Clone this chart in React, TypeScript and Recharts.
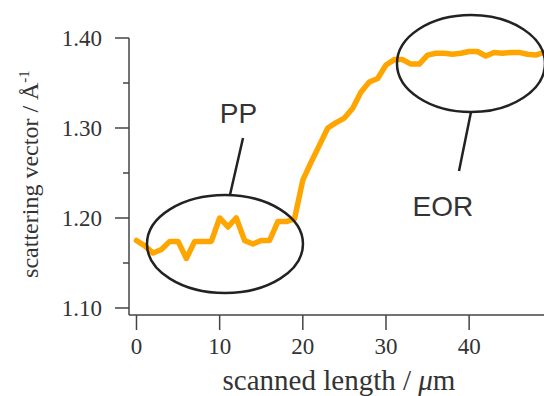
import React from 'react';
import {
  Line,
  LineChart,
  ReferenceDot,
  ReferenceLine,
  XAxis,
  YAxis,
} from 'recharts';

// scanned length (µm) and scattering vector (Å^-1)
const lengths = [
  0, 1, 2, 3, 4, 5, 6, 7, 8, 9, 10, 11, 12, 13, 14, 15, 16, 17, 18, 19, 20, 21,
  22, 23, 24, 25, 26, 27, 28, 29, 30, 31, 32, 33, 34, 35, 36, 37, 38, 39, 40,
  41, 42, 43, 44, 45, 46, 47, 48, 49,
];
const qValues = [
  1.175, 1.169, 1.161, 1.165, 1.174, 1.174, 1.155, 1.174, 1.174, 1.174, 1.2,
  1.19, 1.2, 1.175, 1.171, 1.175, 1.175, 1.196, 1.196, 1.199, 1.242, 1.262,
  1.281, 1.3, 1.306, 1.311, 1.322, 1.34, 1.351, 1.355, 1.37, 1.376, 1.376,
  1.371, 1.371, 1.381, 1.383, 1.383, 1.382, 1.383, 1.385, 1.385, 1.38, 1.384,
  1.383, 1.384, 1.384, 1.382, 1.381, 1.384,
];
const xTicks = [0, 10, 20, 30, 40];
const yTicks = [1.1, 1.15, 1.2, 1.25, 1.3, 1.35, 1.4];
const majorYTicks = [1.1, 1.2, 1.3, 1.4];

// annotation anchors (data coordinates)
const ppCenter = { x: 10.64, y: 1.1711 };
const ppLine = [{ x: 11.24, y: 1.2256 }, { x: 12.81, y: 1.2889 }];
const ppText = { x: 12.26, y: 1.3167 };
const eorCenter = { x: 40.22, y: 1.3717 };
const eorLine = [{ x: 40.22, y: 1.3178 }, { x: 38.78, y: 1.2522 }];
const eorText = { x: 36.85, y: 1.2133 };

const data = lengths.map((x, i) => ({ x, q: qValues[i] }));

const serif = '"Liberation Serif", "DejaVu Serif", serif';
const sans = '"Liberation Sans", Arial, sans-serif';
const axisColor = '#444';

const YTick = (props: any) => {
  const { x, y, payload } = props;
  const axisX = x + 27;
  const major = majorYTicks.some((t) => Math.abs(t - payload.value) < 1e-6);
  return (
    <g>
      <line
        x1={axisX - (major ? 14 : 6)}
        x2={axisX}
        y1={y}
        y2={y}
        stroke={axisColor}
        strokeWidth={1.5}
      />
      {major && (
        <text
          x={x}
          y={y}
          dy="0.35em"
          textAnchor="end"
          fontFamily={serif}
          fontSize={23}
          fill="#333"
        >
          {payload.value.toFixed(2)}
        </text>
      )}
    </g>
  );
};

const ellipse = (rx: number, ry: number) => (props: any) => (
  <ellipse
    cx={props.cx}
    cy={props.cy}
    rx={rx}
    ry={ry}
    fill="none"
    stroke="#222"
    strokeWidth={2.5}
  />
);

const word = (label: string) => (props: any) => (
  <text
    x={props.cx}
    y={props.cy}
    dy="0.36em"
    textAnchor="middle"
    fontFamily={sans}
    fontSize={28}
    fill="#333"
  >
    {label}
  </text>
);

const App = () => (
  <div style={{ position: 'absolute', left: 0, top: 0, background: '#fff' }}>
    <LineChart
      width={544}
      height={396}
      data={data}
      margin={{ top: 38, right: 0, bottom: 0, left: 0 }}
    >
      <XAxis
        dataKey="x"
        type="number"
        domain={[-0.9, 49]}
        allowDataOverflow
        ticks={xTicks}
        height={81}
        tickSize={15}
        tickMargin={8}
        stroke={axisColor}
        strokeWidth={1.5}
        tick={{ fontFamily: serif, fontSize: 23, fill: '#333' }}
        label={{
          content: () => (
            <text
              x={339}
              y={390}
              textAnchor="middle"
              fontFamily={serif}
              fontSize={29}
              fill="#333"
            >
              scanned length / <tspan fontStyle="italic">μ</tspan>m
            </text>
          ),
        }}
      />
      <YAxis
        type="number"
        domain={[1.0922, 1.4]}
        allowDataOverflow
        ticks={yTicks}
        width={129}
        tickSize={14}
        tickMargin={13}
        tickLine={false}
        stroke={axisColor}
        strokeWidth={1.5}
        tick={<YTick />}
        label={{
          content: () => (
            <text
              x={38}
              y={174}
              transform="rotate(-90 38 174)"
              textAnchor="middle"
              fontFamily={serif}
              fontSize={24}
              fill="#333"
            >
              scattering vector / Å
              <tspan dy={-9} fontSize={15}>
                -1
              </tspan>
            </text>
          ),
        }}
      />
      <Line
        type="linear"
        dataKey="q"
        stroke="#FFA500"
        strokeWidth={5.5}
        strokeLinejoin="round"
        strokeLinecap="round"
        dot={false}
        isAnimationActive={false}
      />
      <ReferenceDot
        x={ppCenter.x}
        y={ppCenter.y}
        ifOverflow="visible"
        shape={ellipse(78, 49)}
      />
      <ReferenceLine
        segment={ppLine}
        stroke="#222"
        strokeWidth={2.5}
        ifOverflow="visible"
      />
      <ReferenceDot
        x={ppText.x}
        y={ppText.y}
        ifOverflow="visible"
        shape={word('PP')}
      />
      <ReferenceDot
        x={eorCenter.x}
        y={eorCenter.y}
        ifOverflow="visible"
        shape={ellipse(74, 48.5)}
      />
      <ReferenceLine
        segment={eorLine}
        stroke="#222"
        strokeWidth={2.5}
        ifOverflow="visible"
      />
      <ReferenceDot
        x={eorText.x}
        y={eorText.y}
        ifOverflow="visible"
        shape={word('EOR')}
      />
    </LineChart>
  </div>
);

export default App;
